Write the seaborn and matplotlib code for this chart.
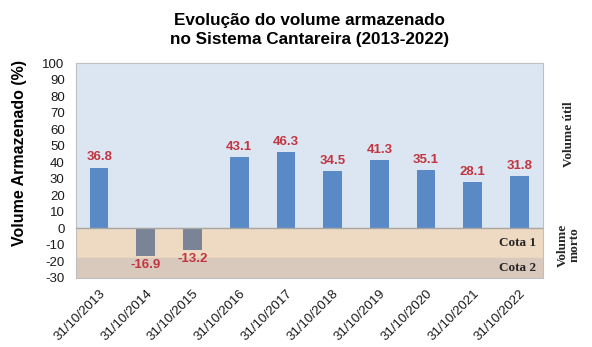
import matplotlib
matplotlib.use("Agg")
import matplotlib.pyplot as plt
import seaborn as sns
import pandas as pd

dates = ["31/10/2013", "31/10/2014", "31/10/2015", "31/10/2016", "31/10/2017",
         "31/10/2018", "31/10/2019", "31/10/2020", "31/10/2021", "31/10/2022"]
volumes = [36.8, -16.9, -13.2, 43.1, 46.3, 34.5, 41.3, 35.1, 28.1, 31.8]
y_ticks = list(range(-30, 101, 10))
cota_limit = -18

sns.set_theme(style="white")
plt.rcParams['font.family'] = ['Liberation Sans', 'DejaVu Sans']

df = pd.DataFrame({"data": dates, "volume": volumes})
df["tipo"] = ["util" if v >= 0 else "morto" for v in volumes]

fig = plt.figure(figsize=(5.92, 3.47), dpi=100)
ax = fig.add_axes([0.128, 0.199, 0.789, 0.619])

ax.axhspan(0, 100, color="#dce6f2", zorder=0)
ax.axhspan(cota_limit, 0, color="#eed9c3", zorder=0)
ax.axhspan(-30, cota_limit, color="#d9c8bc", zorder=0)

sns.barplot(data=df, x="data", y="volume", hue="tipo",
            palette={"util": "#5a8ac6", "morto": "#7a8496"}, saturation=1,
            width=0.4, dodge=False, legend=False, ax=ax, zorder=2,
            edgecolor="none", linewidth=0)
ax.axhline(0, color="#a6a6a6", lw=1.0, zorder=3)

for i, v in enumerate(volumes):
    if v >= 0:
        ax.text(i, v + 2.5, f"{v:.1f}", ha="center", va="bottom", color="#c0353f",
                fontsize=9.5, fontweight="bold", zorder=4)
    else:
        ax.text(i, v - 1.5, f"{v:.1f}", ha="center", va="top", color="#c0353f",
                fontsize=9.5, fontweight="bold", zorder=4)

ax.set_ylim(-30, 100)
ax.set_xlim(-0.5, len(dates) - 0.5)
ax.set_yticks(y_ticks)
ax.set_yticklabels([str(t) for t in y_ticks], fontsize=9.5, color="#1a1a1a")
ax.tick_params(axis="x", labelrotation=45, labelsize=9.5, pad=1, labelcolor="#1a1a1a")
for lbl in ax.get_xticklabels():
    lbl.set_ha("right")
    lbl.set_rotation_mode("anchor")
ax.tick_params(axis="y", pad=2)
ax.set_xlabel("")
ax.set_ylabel("Volume Armazenado (%)", fontsize=11.5, fontweight="bold", color="black")
ax.yaxis.set_label_coords(-0.105, 0.58)
for s in ax.spines.values():
    s.set_color("#bfbfbf")
    s.set_linewidth(0.8)

ax.set_title("Evolução do volume armazenado\nno Sistema Cantareira (2013-2022)",
             fontsize=12.3, fontweight="bold", pad=14, linespacing=1.35, color="black")

serif = ['Liberation Serif', 'DejaVu Serif']
ax.text(0.985, -9, "Cota 1", transform=ax.get_yaxis_transform(), ha="right", va="center",
        fontsize=9.5, fontweight="bold", family=serif, zorder=4)
ax.text(0.985, -24, "Cota 2", transform=ax.get_yaxis_transform(), ha="right", va="center",
        fontsize=9.5, fontweight="bold", family=serif, zorder=4)
ax.text(1.055, 57, "Volume útil", transform=ax.get_yaxis_transform(), ha="center", va="center",
        rotation=90, fontsize=9.5, fontweight="bold", family=serif)
ax.text(1.055, -10, "Volume\nmorto", transform=ax.get_yaxis_transform(), ha="center", va="center",
        rotation=90, fontsize=9.5, fontweight="bold", family=serif, linespacing=1.0)

fig.savefig("out.png", dpi=100)
